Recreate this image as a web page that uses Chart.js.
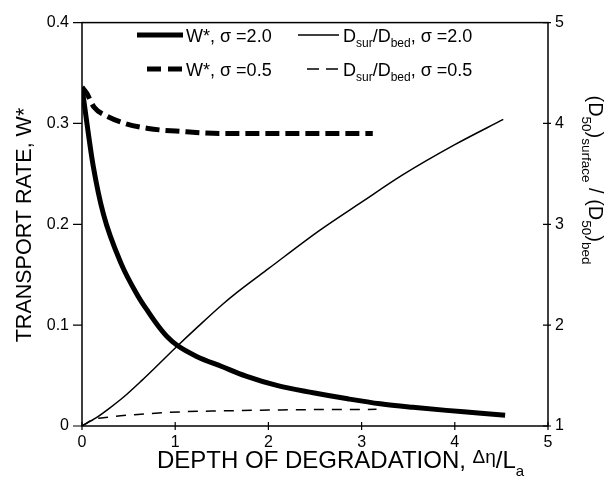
<!DOCTYPE html>
<html><head><meta charset="utf-8">
<script src="https://cdn.jsdelivr.net/npm/chart.js@4"></script>
<style>html,body{margin:0;padding:0;background:#fff}#wrap{width:615px;height:495px;position:relative}</style>
</head><body><div id="wrap"><canvas id="c"></canvas></div>
<script>
// ---- data ----
const xW2 = [0, 0.05, 0.12, 0.23, 0.42, 0.60, 0.72, 0.82, 0.92, 1.02, 1.23, 1.50, 1.76, 2.10, 2.48, 2.85, 3.20, 3.55, 3.91, 4.25, 4.54];
const W2  = [0.336, 0.302, 0.258, 0.210, 0.161, 0.129, 0.112, 0.099, 0.088, 0.080, 0.069, 0.059, 0.0495, 0.040, 0.033, 0.027, 0.022, 0.0185, 0.0155, 0.013, 0.0107];
const xW05 = [0, 0.05, 0.13, 0.25, 0.46, 0.71, 1.07, 1.5, 2.0, 2.5, 3.12];
const W05  = [0.336, 0.330, 0.316, 0.308, 0.300, 0.295, 0.292, 0.290, 0.290, 0.290, 0.290];
const xD2 = [0, 0.15, 0.3, 0.45, 0.64, 0.82, 1.02, 1.25, 1.5, 1.67, 2.0, 2.55, 3.0, 3.44, 4.0, 4.52];
const D2  = [1.0, 1.08, 1.18, 1.29, 1.45, 1.61, 1.79, 1.99, 2.2, 2.33, 2.56, 2.94, 3.22, 3.49, 3.79, 4.04];
const xD05 = [0, 0.11, 0.3, 0.6, 1.05, 1.5, 2.0, 2.5, 3.16];
const D05  = [1.0, 1.06, 1.09, 1.115, 1.14, 1.15, 1.158, 1.163, 1.165];

const xTicks = [0, 1, 2, 3, 4, 5];
const xTickLabels = ['0', '1', '2', '3', '4', '5'];
const wTicks = [0, 0.1, 0.2, 0.3, 0.4];
const wTickLabels = ['0', '0.1', '0.2', '0.3', '0.4'];
const dTicks = [1, 2, 3, 4, 5];
const dTickLabels = ['1', '2', '3', '4', '5'];

const FAM = '"Liberation Sans", Arial, Helvetica, sans-serif';

function pts(xs, ys) { return xs.map((x, i) => ({x: x, y: ys[i]})); }
function lookup(ticks, labels, v) {
  let best = 0;
  ticks.forEach((t, i) => { if (Math.abs(t - v) < Math.abs(ticks[best] - v)) best = i; });
  return Math.abs(ticks[best] - v) < 1e-6 ? labels[best] : '';
}

function drawRich(ctx, segs, x, y, rot, align) {
  ctx.save();
  ctx.translate(x, y);
  ctx.rotate(rot);
  let w = 0;
  segs.forEach(s => { ctx.font = s.size + 'px ' + FAM; s.w = ctx.measureText(s.t).width; w += s.w; });
  let cx = align === 'center' ? -w / 2 : 0;
  ctx.textAlign = 'left';
  ctx.textBaseline = 'alphabetic';
  ctx.fillStyle = '#000';
  segs.forEach(s => { ctx.font = s.size + 'px ' + FAM; ctx.fillText(s.t, cx, s.dy || 0); cx += s.w; });
  ctx.restore();
}

const decor = {
  id: 'decor',
  afterDraw(chart) {
    const ctx = chart.ctx;
    const a = chart.chartArea;
    const sx = chart.scales.x, sw = chart.scales.yW, sd = chart.scales.yD;
    ctx.save();
    ctx.strokeStyle = '#000';
    ctx.lineWidth = 1.5;
    ctx.strokeRect(a.left, a.top, a.right - a.left, a.bottom - a.top);
    ctx.lineWidth = 1.2;
    ctx.beginPath();
    wTicks.forEach(v => { const y = sw.getPixelForValue(v); ctx.moveTo(a.left - 9, y); ctx.lineTo(a.left, y); });
    dTicks.forEach(v => { const y = sd.getPixelForValue(v); ctx.moveTo(a.right - 5, y); ctx.lineTo(a.right + 3, y); });
    xTicks.forEach(v => { const x = sx.getPixelForValue(v); ctx.moveTo(x, a.bottom - 4); ctx.lineTo(x, a.bottom + 4); });
    ctx.stroke();

    // axis titles
    drawRich(ctx, [
      {t: 'DEPTH OF DEGRADATION, ', size: 24},
      {t: '\u0394\u03b7', size: 19, dy: -5},
      {t: '/L', size: 24},
      {t: 'a', size: 15, dy: 8}
    ], 157, 468, 0, 'left');
    drawRich(ctx, [{t: 'TRANSPORT RATE, W*', size: 21.5}], 31, 225, -Math.PI / 2, 'center');
    drawRich(ctx, [
      {t: '(D', size: 20},
      {t: '50', size: 13.5, dy: 7},
      {t: ')', size: 20},
      {t: 'surface', size: 13.5, dy: 7},
      {t: ' / (D', size: 20},
      {t: '50', size: 13.5, dy: 7},
      {t: ')', size: 20},
      {t: 'bed', size: 13.5, dy: 7}
    ], 589, 180, Math.PI / 2, 'center');

    // legend
    const rows = [35, 69];
    ctx.strokeStyle = '#000';
    ctx.lineCap = 'butt';
    ctx.lineWidth = 5; ctx.setLineDash([]);
    ctx.beginPath(); ctx.moveTo(137, rows[0]); ctx.lineTo(183, rows[0]); ctx.stroke();
    ctx.setLineDash([14, 7]);
    ctx.beginPath(); ctx.moveTo(147, rows[1]); ctx.lineTo(182, rows[1]); ctx.stroke();
    ctx.lineWidth = 1.5; ctx.setLineDash([]);
    ctx.beginPath(); ctx.moveTo(298, rows[0]); ctx.lineTo(339, rows[0]); ctx.stroke();
    ctx.setLineDash([12, 7]);
    ctx.beginPath(); ctx.moveTo(307, rows[1]); ctx.lineTo(338, rows[1]); ctx.stroke();
    ctx.setLineDash([]);

    drawRich(ctx, [{t: 'W*, \u03c3 =2.0', size: 18}], 186, rows[0] + 7, 0, 'left');
    drawRich(ctx, [{t: 'W*, \u03c3 =0.5', size: 18}], 186, rows[1] + 7, 0, 'left');
    drawRich(ctx, [
      {t: 'D', size: 18}, {t: 'sur', size: 12, dy: 5}, {t: '/D', size: 18}, {t: 'bed', size: 12, dy: 5},
      {t: ', \u03c3 =2.0', size: 18}
    ], 343, rows[0] + 7, 0, 'left');
    drawRich(ctx, [
      {t: 'D', size: 18}, {t: 'sur', size: 12, dy: 5}, {t: '/D', size: 18}, {t: 'bed', size: 12, dy: 5},
      {t: ', \u03c3 =0.5', size: 18}
    ], 343, rows[1] + 7, 0, 'left');
    ctx.restore();
  }
};

const tickFont = {size: 16, family: FAM};

new Chart(document.getElementById('c'), {
  type: 'scatter',
  data: {
    datasets: [
      {label: 'W*, σ =2.0', data: pts(xW2, W2), yAxisID: 'yW', showLine: true, borderColor: '#000', borderWidth: 5, pointRadius: 0, cubicInterpolationMode: 'monotone', borderCapStyle: 'butt'},
      {label: 'W*, σ =0.5', data: pts(xW05, W05), yAxisID: 'yW', showLine: true, borderColor: '#000', borderWidth: 5, borderDash: [14, 6], pointRadius: 0, cubicInterpolationMode: 'monotone'},
      {label: 'Dsur/Dbed, σ =2.0', data: pts(xD2, D2), yAxisID: 'yD', showLine: true, borderColor: '#000', borderWidth: 1.5, pointRadius: 0, cubicInterpolationMode: 'monotone'},
      {label: 'Dsur/Dbed, σ =0.5', data: pts(xD05, D05), yAxisID: 'yD', showLine: true, borderColor: '#000', borderWidth: 1.5, borderDash: [10, 8], pointRadius: 0, cubicInterpolationMode: 'monotone'}
    ]
  },
  options: {
    responsive: true,
    maintainAspectRatio: false,
    animation: false,
    layout: {padding: {top: 14, left: 0, right: 0, bottom: 0}},
    plugins: {legend: {display: false}, tooltip: {enabled: false}},
    scales: {
      x: {
        type: 'linear', position: 'bottom', min: 0, max: 5,
        ticks: {stepSize: 1, color: '#000', font: tickFont, padding: 7, maxRotation: 0,
          callback: v => lookup(xTicks, xTickLabels, v)},
        grid: {display: false, drawTicks: false},
        border: {display: false},
        afterFit: s => { s.height = 69; }
      },
      yW: {
        type: 'linear', position: 'left', min: 0, max: 0.4,
        ticks: {stepSize: 0.1, color: '#000', font: tickFont, padding: 13,
          callback: v => lookup(wTicks, wTickLabels, v)},
        grid: {display: false, drawTicks: false},
        border: {display: false},
        afterFit: s => { s.width = 82; }
      },
      yD: {
        type: 'linear', position: 'right', min: 1, max: 5,
        ticks: {stepSize: 1, color: '#000', font: tickFont, padding: 7,
          callback: v => lookup(dTicks, dTickLabels, v)},
        grid: {display: false, drawTicks: false},
        border: {display: false},
        afterFit: s => { s.width = 67; }
      }
    }
  },
  plugins: [decor]
});
</script>
</body></html>
